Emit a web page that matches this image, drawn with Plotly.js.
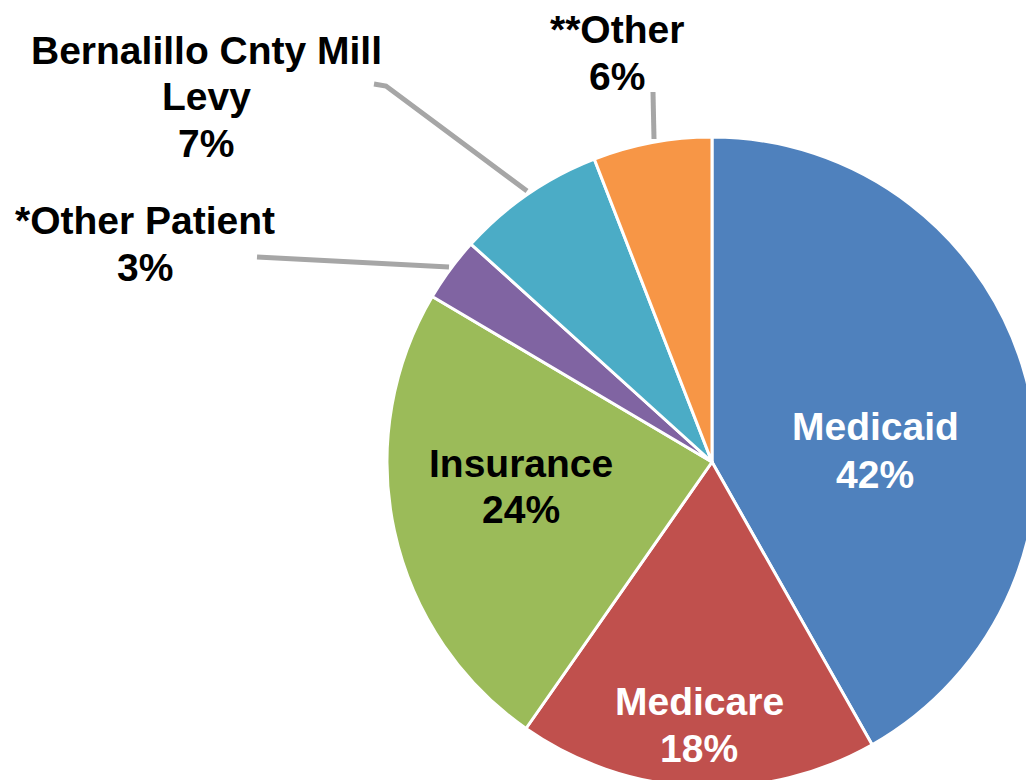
<!DOCTYPE html>
<html>
<head>
<meta charset="utf-8">
<script src="https://cdn.plot.ly/plotly-3.0.1.min.js"></script>
<style>
html,body{margin:0;padding:0;overflow:hidden;background:#fff;width:1026px;height:780px;}
#chart{width:1060px;height:800px;}
</style>
</head>
<body>
<div id="chart"></div>
<script>
// Data
const categories = ["Medicaid", "Medicare", "Insurance", "*Other Patient", "Bernalillo Cnty Mill<br>Levy", "**Other"];
const values = [41.8, 17.9, 23.8, 3.2, 7.4, 5.9];
const colors = ["#4F81BD", "#C0504D", "#9BBB59", "#8064A2", "#4BACC6", "#F79646"];

// layout helpers (pixel -> paper)
const W = 1060, H = 800;
const px = x => x / W;
const py = y => 1 - y / H;

// label placement (pixel centre of first line), text colour
const labelPos = [
  {x: 875, y: 427, c: "#FFFFFF"},
  {x: 699, y: 701, c: "#FFFFFF"},
  {x: 521, y: 463, c: "#000000"},
  {x: 145, y: 220, c: "#000000"},
  {x: 206, y: 50,  c: "#000000"},
  {x: 617, y: 30,  c: "#000000"}
];
const lineGap = 47;
const fontFam = "Liberation Sans, Arial, sans-serif";
const fontSize = 39;

const total = values.reduce((a, b) => a + b, 0);
const annotations = [];
categories.forEach((cat, i) => {
  const lines = cat.split("<br>").concat([Math.round(values[i] / total * 100) + "%"]);
  lines.forEach((ln, k) => {
    annotations.push({
      xref: "paper", yref: "paper",
      x: px(labelPos[i].x), y: py(labelPos[i].y + k * lineGap),
      xanchor: "center", yanchor: "middle",
      text: "<b>" + ln + "</b>", showarrow: false,
      font: {family: fontFam, size: fontSize, color: labelPos[i].c}
    });
  });
});

const leader = pts => "M " + pts.map(p => px(p[0]) + " " + py(p[1])).join(" L ");
const shapes = [
  [[653, 92], [654, 139]],
  [[374, 84], [386, 86], [527, 191]],
  [[257, 257], [449, 267]]
].map(p => ({
  type: "path", xref: "paper", yref: "paper", path: leader(p),
  line: {color: "#A6A6A6", width: 5}
}));

const trace = {
  type: "pie",
  labels: categories,
  values: values,
  sort: false,
  direction: "clockwise",
  rotation: 0,
  textinfo: "none",
  hoverinfo: "label+percent",
  marker: {colors: colors, line: {color: "#FFFFFF", width: 3}},
  domain: {x: [px(387), px(1037)], y: [py(787), py(137)]}
};

Plotly.newPlot("chart", [trace], {
  width: W, height: H,
  margin: {l: 0, r: 0, t: 0, b: 0},
  showlegend: false,
  paper_bgcolor: "#FFFFFF",
  annotations: annotations,
  shapes: shapes
}, {displayModeBar: false, staticPlot: true});
</script>
</body>
</html>
